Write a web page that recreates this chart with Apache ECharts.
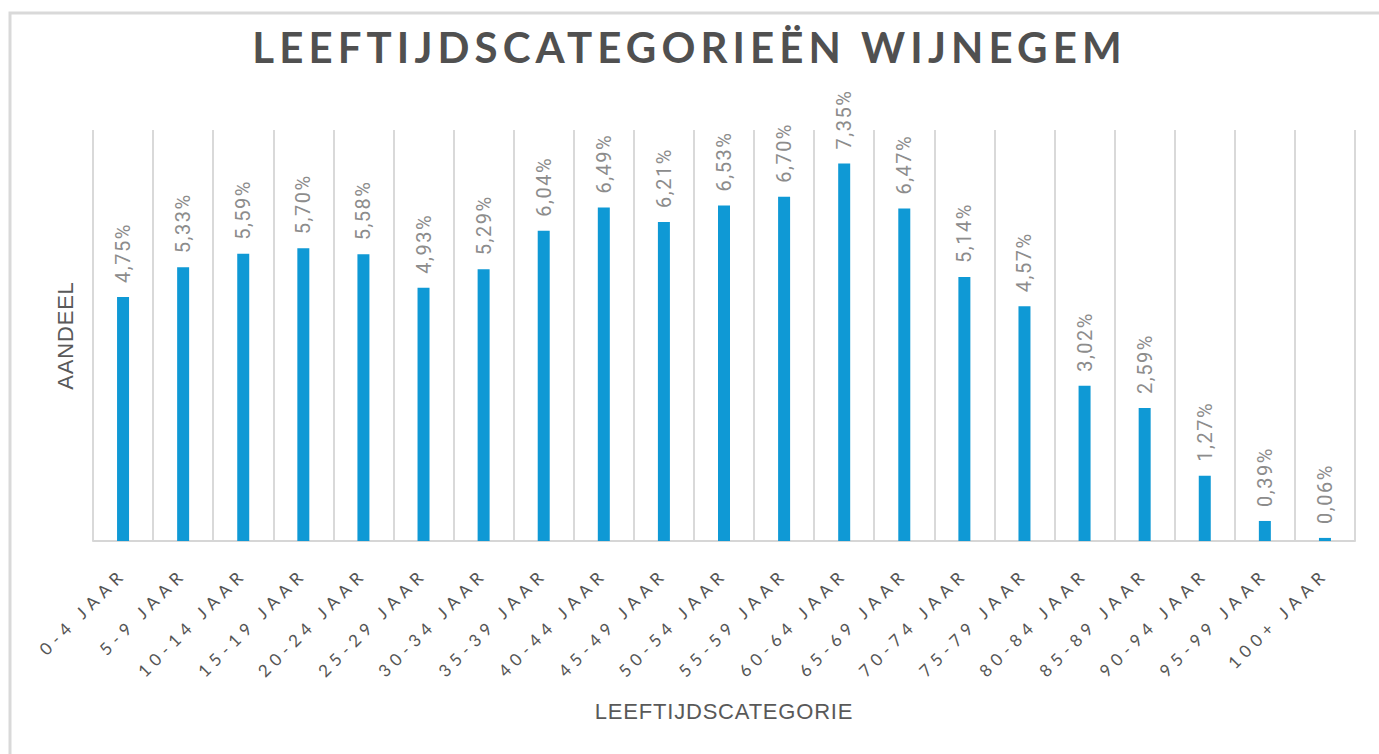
<!DOCTYPE html>
<html>
<head>
<meta charset="utf-8">
<script src="https://cdn.jsdelivr.net/npm/echarts@6/dist/echarts.min.js"></script>
<style>
  html, body { margin: 0; padding: 0; background: #fff; }
  #chart { width: 1379px; height: 754px; }
  /* letter spacing for SVG text (selected by their unique font sizes) */
  #chart text[style*="42px"] { letter-spacing: 5.1px; }
  #chart text[style*="17px"] { letter-spacing: 5.5px; }
  #chart text[style*="20px"] { letter-spacing: 1.5px; }
  #chart text[style*="22px"] { letter-spacing: 0.8px; }
</style>
</head>
<body>
<div id="chart"></div>
<script>
const titleText = 'LEEFTIJDSCATEGORIEËN WIJNEGEM';
const categories = ['0-4 JAAR', '5-9 JAAR', '10-14 JAAR', '15-19 JAAR', '20-24 JAAR', '25-29 JAAR',
  '30-34 JAAR', '35-39 JAAR', '40-44 JAAR', '45-49 JAAR', '50-54 JAAR', '55-59 JAAR',
  '60-64 JAAR', '65-69 JAAR', '70-74 JAAR', '75-79 JAAR', '80-84 JAAR', '85-89 JAAR',
  '90-94 JAAR', '95-99 JAAR', '100+ JAAR'];
const shares = [4.75, 5.33, 5.59, 5.70, 5.58, 4.93, 5.29, 6.04, 6.49, 6.21, 6.53, 6.70,
  7.35, 6.47, 5.14, 4.57, 3.02, 2.59, 1.27, 0.39, 0.06];
const xAxisName = 'LEEFTIJDSCATEGORIE';
const yAxisName = 'AANDEEL';

const chart = echarts.init(document.getElementById('chart'), null, { renderer: 'svg' });
chart.setOption({
  animation: false,
  backgroundColor: '#ffffff',
  graphic: [{
    type: 'rect',
    z: -10,
    shape: { x: 10, y: 13, width: 1400, height: 800 },
    style: { fill: '#ffffff', stroke: '#d9d9d9', lineWidth: 3 }
  }],
  title: {
    text: titleText,
    left: 'center',
    top: 21,
    textStyle: {
      fontFamily: 'Lato',
      fontWeight: 'bold',
      fontSize: 42,
      color: '#505050'
    }
  },
  grid: {
    left: 93, right: 24, top: 130, bottom: 213,
    outerBoundsMode: 'none'
  },
  xAxis: {
    type: 'category',
    data: categories,
    name: xAxisName,
    nameLocation: 'middle',
    nameGap: 159,
    nameTextStyle: { fontFamily: 'Liberation Sans', fontSize: 22, color: '#595959' },
    axisLine: { lineStyle: { color: '#d6d6d6', width: 2 } },
    axisTick: { show: false },
    axisLabel: {
      interval: 0,
      rotate: 45,
      margin: 30,
      fontFamily: 'Lato',
      fontSize: 17,
      color: '#555555'
    },
    splitLine: { show: true, lineStyle: { color: '#d9d9d9', width: 2 } }
  },
  yAxis: {
    type: 'value',
    min: 0,
    max: 8,
    interval: 1,
    name: yAxisName,
    nameLocation: 'middle',
    nameGap: 17,
    nameTextStyle: { fontFamily: 'Liberation Sans', fontSize: 22, color: '#595959' },
    axisLine: { show: false },
    axisTick: { show: false },
    axisLabel: { show: false },
    splitLine: { show: false }
  },
  series: [{
    type: 'bar',
    data: shares,
    barWidth: 12,
    itemStyle: { color: '#0f99d5' },
    label: {
      show: true,
      position: 'top',
      rotate: 90,
      align: 'left',
      verticalAlign: 'middle',
      distance: 14,
      fontFamily: 'Roboto',
      fontSize: 20,
      color: '#8c8c8c',
      formatter: p => p.value.toFixed(2).replace('.', ',') + '%'
    }
  }]
});
</script>
</body>
</html>
